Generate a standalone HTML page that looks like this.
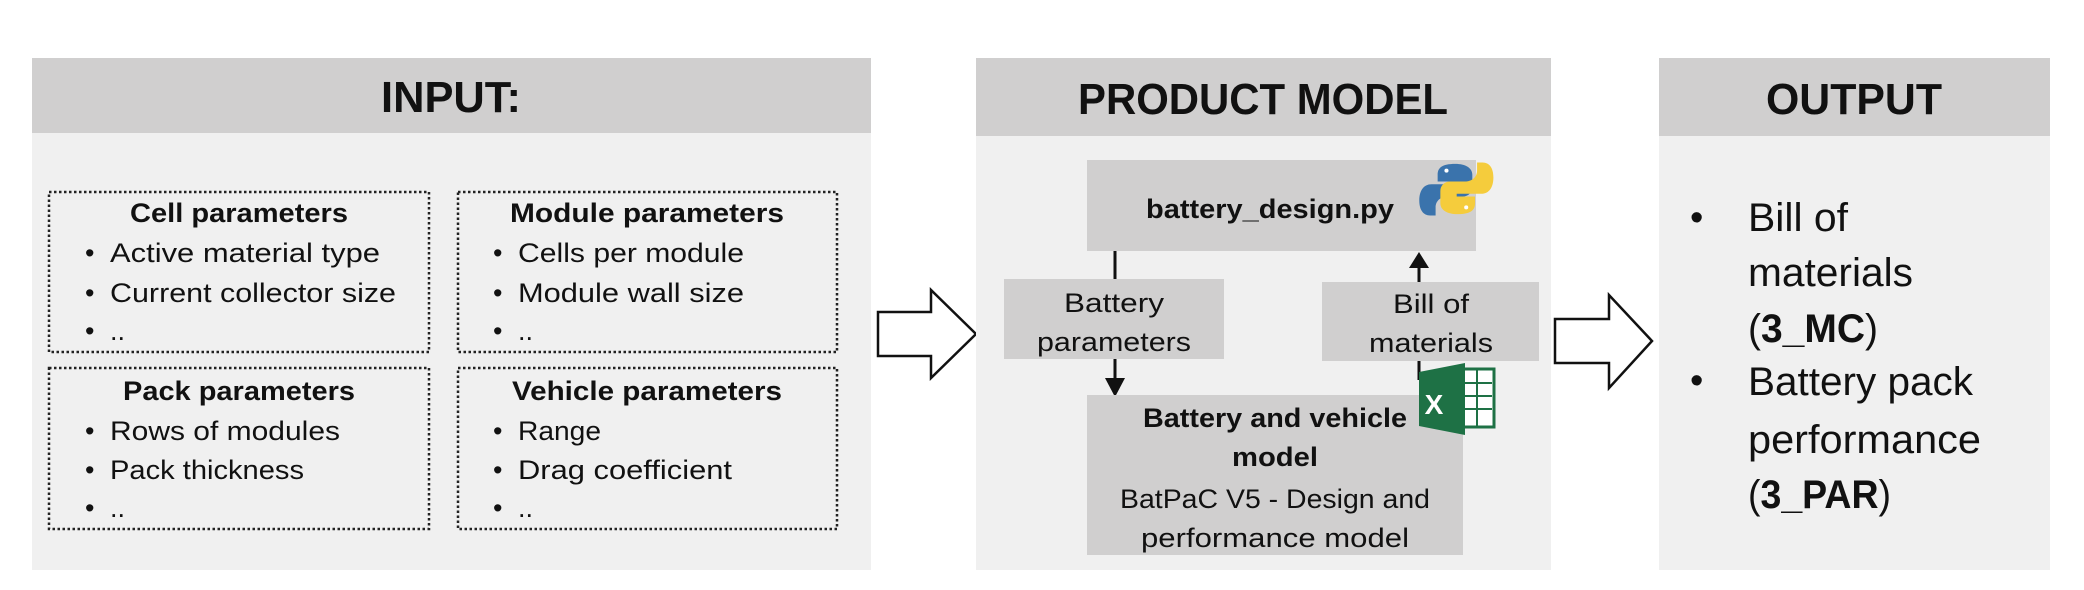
<!DOCTYPE html>
<html><head><meta charset="utf-8"><style>
html,body{margin:0;padding:0;background:#fff;}
svg{display:block;font-family:"Liberation Sans",sans-serif;}
</style></head><body>
<svg width="2084" height="590" viewBox="0 0 2084 590" xmlns="http://www.w3.org/2000/svg">
<!-- INPUT panel -->
<rect x="32" y="58" width="839" height="512" fill="#f0f0f0"/>
<rect x="32" y="58" width="839" height="75" fill="#d0cfcf"/>
<text x="451" y="112" font-size="44" font-weight="bold" text-anchor="middle" fill="#111" textLength="140" lengthAdjust="spacingAndGlyphs">INPUT:</text>
<g fill="none" stroke="#222" stroke-width="2.5" stroke-dasharray="2.5,2.5">
<rect x="49" y="192" width="380" height="160"/>
<rect x="458" y="192" width="379" height="160"/>
<rect x="49" y="368" width="380" height="161"/>
<rect x="458" y="368" width="379" height="161"/>
</g>
<g font-size="27" fill="#111">
<text x="239" y="222" font-weight="bold" text-anchor="middle" textLength="218" lengthAdjust="spacingAndGlyphs">Cell parameters</text>
<text x="85" y="262">•</text><text x="110" y="262" textLength="270" lengthAdjust="spacingAndGlyphs">Active material type</text>
<text x="85" y="302">•</text><text x="110" y="302" textLength="286" lengthAdjust="spacingAndGlyphs">Current collector size</text>
<text x="85" y="340">•</text><text x="110" y="340">..</text>
<text x="647" y="222" font-weight="bold" text-anchor="middle" textLength="274" lengthAdjust="spacingAndGlyphs">Module parameters</text>
<text x="493" y="262">•</text><text x="518" y="262" textLength="226" lengthAdjust="spacingAndGlyphs">Cells per module</text>
<text x="493" y="302">•</text><text x="518" y="302" textLength="226" lengthAdjust="spacingAndGlyphs">Module wall size</text>
<text x="493" y="340">•</text><text x="518" y="340">..</text>
<text x="239" y="400" font-weight="bold" text-anchor="middle" textLength="232" lengthAdjust="spacingAndGlyphs">Pack parameters</text>
<text x="85" y="440">•</text><text x="110" y="440" textLength="230" lengthAdjust="spacingAndGlyphs">Rows of modules</text>
<text x="85" y="479">•</text><text x="110" y="479" textLength="194" lengthAdjust="spacingAndGlyphs">Pack thickness</text>
<text x="85" y="517">•</text><text x="110" y="517">..</text>
<text x="647" y="400" font-weight="bold" text-anchor="middle" textLength="270" lengthAdjust="spacingAndGlyphs">Vehicle parameters</text>
<text x="493" y="440">•</text><text x="518" y="440" textLength="83" lengthAdjust="spacingAndGlyphs">Range</text>
<text x="493" y="479">•</text><text x="518" y="479" textLength="214" lengthAdjust="spacingAndGlyphs">Drag coefficient</text>
<text x="493" y="517">•</text><text x="518" y="517">..</text>
</g>
<!-- arrow 1 -->
<polygon points="878,312 931,312 931,290 976,334 931,378 931,356 878,356" fill="#fff" stroke="#111" stroke-width="2.5"/>
<!-- PRODUCT MODEL panel -->
<rect x="976" y="58" width="575" height="512" fill="#f0f0f0"/>
<rect x="976" y="58" width="575" height="78" fill="#d0cfcf"/>
<text x="1263" y="114" font-size="44" font-weight="bold" text-anchor="middle" fill="#111" textLength="370" lengthAdjust="spacingAndGlyphs">PRODUCT MODEL</text>
<rect x="1087" y="160" width="389" height="91" fill="#d0cfcf"/>
<text x="1270" y="218" font-size="27" font-weight="bold" text-anchor="middle" fill="#111" textLength="248" lengthAdjust="spacingAndGlyphs">battery_design.py</text>
<!-- python logo -->
<g transform="translate(1456 189) scale(0.68) translate(-1456 -189)">
<path d="M1455,152 c-20,0 -26,6 -26,16 v10 h27 v4 h-36 c-12,0 -18,10 -18,24 c0,14 6,22 16,22 h8 v-12 c0,-10 8,-16 18,-16 h22 c8,0 14,-6 14,-14 v-18 c0,-10 -10,-16 -25,-16z" fill="#3a73ac"/>
<circle cx="1442" cy="162" r="3" fill="#fff"/>
<path d="M1458,226 c20,0 26,-6 26,-16 v-10 h-27 v-4 h36 c12,0 18,-10 18,-24 c0,-14 -6,-22 -16,-22 h-8 v12 c0,10 -8,16 -18,16 h-22 c-8,0 -14,6 -14,14 v18 c0,10 10,16 25,16z" fill="#f5cc3c"/>
<circle cx="1471" cy="216" r="3" fill="#fff"/>
</g>
<!-- connectors -->
<g stroke="#111" stroke-width="3">
<line x1="1115" y1="251" x2="1115" y2="279"/>
<line x1="1115" y1="359" x2="1115" y2="380"/>
<line x1="1419" y1="282" x2="1419" y2="266"/>
<line x1="1419" y1="361" x2="1419" y2="380"/>
</g>
<polygon points="1105,378 1125,378 1115,397" fill="#111"/>
<polygon points="1409,268 1429,268 1419,252" fill="#111"/>
<rect x="1004" y="279" width="220" height="80" fill="#d0cfcf"/>
<text x="1114" y="312" font-size="27" text-anchor="middle" fill="#111" textLength="100" lengthAdjust="spacingAndGlyphs">Battery</text>
<text x="1114" y="351" font-size="27" text-anchor="middle" fill="#111" textLength="154" lengthAdjust="spacingAndGlyphs">parameters</text>
<rect x="1322" y="282" width="217" height="79" fill="#d0cfcf"/>
<text x="1431" y="313" font-size="27" text-anchor="middle" fill="#111" textLength="76" lengthAdjust="spacingAndGlyphs">Bill of</text>
<text x="1431" y="352" font-size="27" text-anchor="middle" fill="#111" textLength="124" lengthAdjust="spacingAndGlyphs">materials</text>
<rect x="1087" y="395" width="376" height="160" fill="#d0cfcf"/>
<g font-size="27" text-anchor="middle" fill="#111">
<text x="1275" y="427" font-weight="bold" textLength="264" lengthAdjust="spacingAndGlyphs">Battery and vehicle</text>
<text x="1275" y="466" font-weight="bold" textLength="86" lengthAdjust="spacingAndGlyphs">model</text>
<text x="1275" y="508" textLength="310" lengthAdjust="spacingAndGlyphs">BatPaC V5 - Design and</text>
<text x="1275" y="547" textLength="268" lengthAdjust="spacingAndGlyphs">performance model</text>
</g>
<!-- excel icon -->
<g>
<rect x="1450" y="369" width="44" height="58" fill="#fff" stroke="#1e7145" stroke-width="3"/>
<g stroke="#1e7145" stroke-width="2">
<line x1="1462" y1="383" x2="1492" y2="383"/><line x1="1462" y1="396" x2="1492" y2="396"/><line x1="1462" y1="409" x2="1492" y2="409"/><line x1="1477" y1="369" x2="1477" y2="427"/>
</g>
<polygon points="1419,372 1465,363 1465,435 1419,426" fill="#1e7145"/>
<text x="1434" y="414" font-size="28" font-weight="bold" fill="#fff" text-anchor="middle">X</text>
</g>
<!-- arrow 2 -->
<polygon points="1555,319 1609,319 1609,295 1652,341 1609,388 1609,363 1555,363" fill="#fff" stroke="#111" stroke-width="2.5"/>
<!-- OUTPUT panel -->
<rect x="1659" y="58" width="391" height="512" fill="#f0f0f0"/>
<rect x="1659" y="58" width="391" height="78" fill="#d0cfcf"/>
<text x="1854" y="114" font-size="44" font-weight="bold" text-anchor="middle" fill="#111" textLength="176" lengthAdjust="spacingAndGlyphs">OUTPUT</text>
<g font-size="40" fill="#111">
<text x="1690" y="230" font-size="38">•</text>
<text x="1748" y="231" textLength="100" lengthAdjust="spacingAndGlyphs">Bill of</text>
<text x="1748" y="286" textLength="165" lengthAdjust="spacingAndGlyphs">materials</text>
<text x="1748" y="342" textLength="130" lengthAdjust="spacingAndGlyphs">(<tspan font-weight="bold">3_MC</tspan>)</text>
<text x="1690" y="393" font-size="38">•</text>
<text x="1748" y="395" textLength="225" lengthAdjust="spacingAndGlyphs">Battery pack</text>
<text x="1748" y="453" textLength="233" lengthAdjust="spacingAndGlyphs">performance</text>
<text x="1748" y="508" textLength="143" lengthAdjust="spacingAndGlyphs">(<tspan font-weight="bold">3_PAR</tspan>)</text>
</g>
</svg>
</body></html>
